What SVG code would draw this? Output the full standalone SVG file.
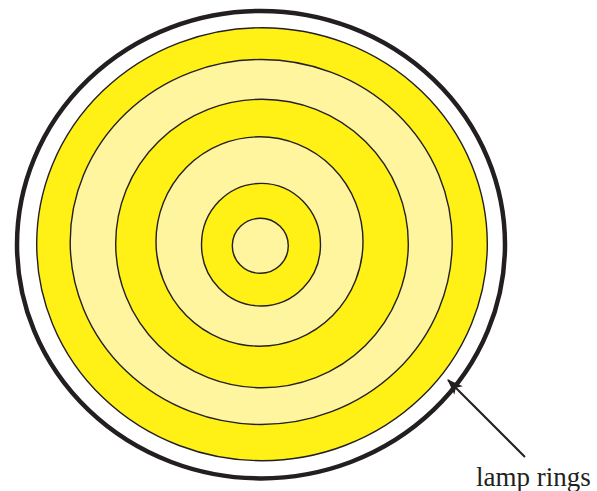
<svg xmlns="http://www.w3.org/2000/svg" width="597" height="491" viewBox="0 0 597 491">
<style>
.ring{stroke:#231f20;stroke-width:1.4}
.bright{fill:#fff016}
.pale{fill:#fff59e}
.label{font-family:"Liberation Serif","Times New Roman",serif;font-size:27px;fill:#231f20}
</style>
<defs>
<marker id="ah" viewBox="0 0 16 12" refX="15" refY="6" markerWidth="16" markerHeight="12" markerUnits="userSpaceOnUse" orient="auto">
<path d="M0,0 L16,6 L0,12 L4,6 Z" fill="#231f20"/>
</marker>
</defs>
<rect width="597" height="491" fill="#ffffff"/>
<g id="lamp">
<ellipse cx="261" cy="244.7" rx="244" ry="233.7" fill="#ffffff" stroke="#231f20" stroke-width="4.5"/>
<ellipse class="ring bright" cx="262" cy="244.2" rx="225.3" ry="216.5"/>
<ellipse class="ring pale" cx="261.2" cy="242" rx="191" ry="182.5"/>
<ellipse class="ring bright" cx="262" cy="243.5" rx="146.3" ry="144.2"/>
<ellipse class="ring pale" cx="259.5" cy="241.5" rx="103.5" ry="104.7"/>
<ellipse class="ring bright" cx="261" cy="244.7" rx="59.5" ry="61.3"/>
<ellipse class="ring pale" cx="260.3" cy="245.8" rx="28" ry="27.5"/>
</g>
<g id="connectors">
<line x1="525" y1="457" x2="448" y2="380" stroke="#231f20" stroke-width="2" marker-end="url(#ah)"/>
</g>
<g id="label">
<text class="label" x="476" y="486">lamp rings</text>
</g>
</svg>
